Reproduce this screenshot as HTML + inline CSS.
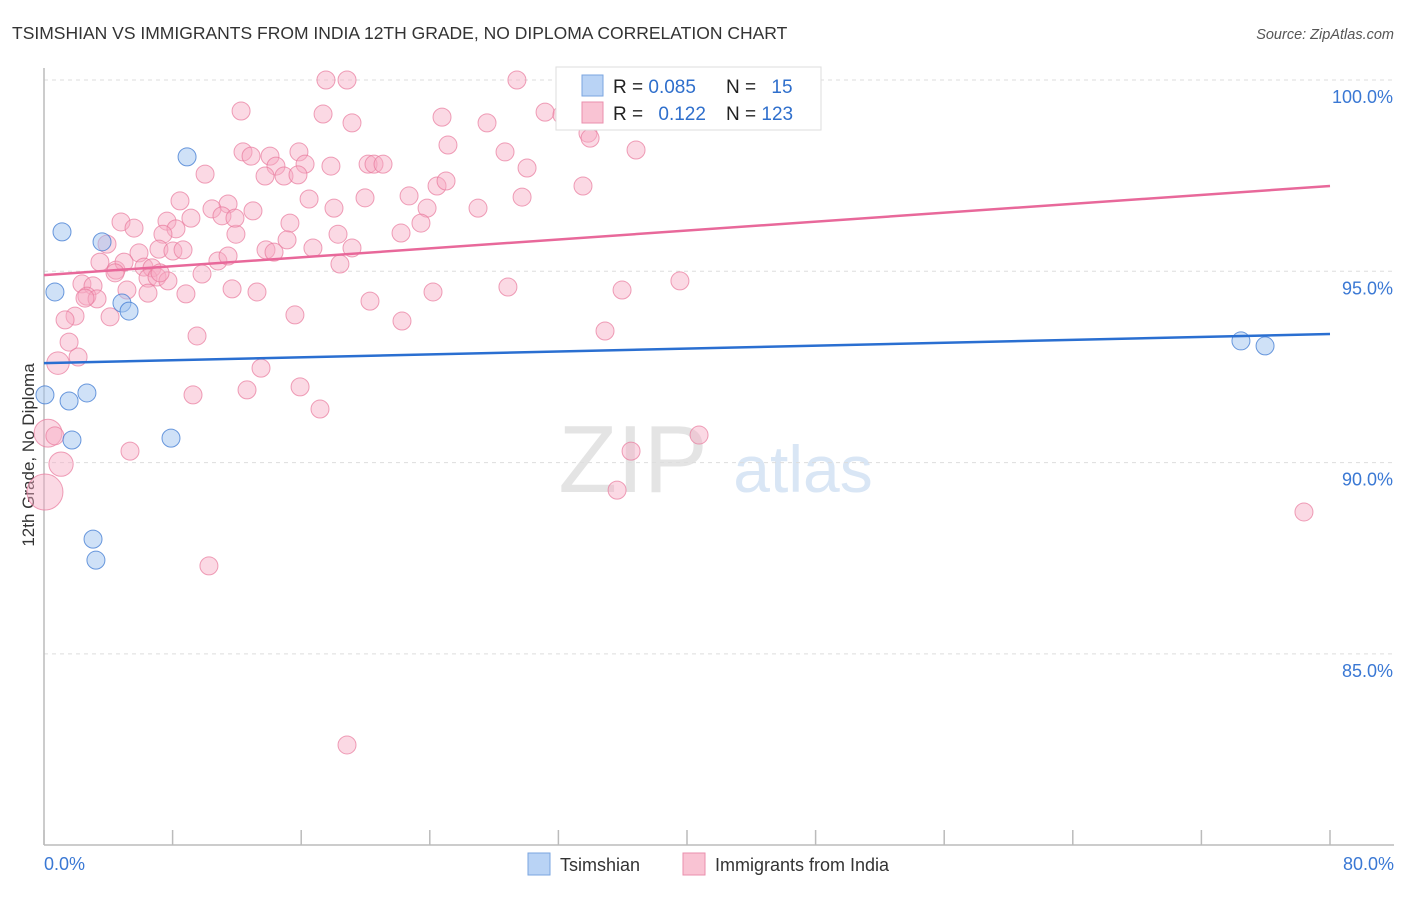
<!DOCTYPE html>
<html><head><meta charset="utf-8"><style>
body{margin:0;background:#fff;font-family:"Liberation Sans",sans-serif}
svg text{font-family:"Liberation Sans",sans-serif}
</style></head><body>
<svg width="1406" height="892" viewBox="0 0 1406 892">
<text x="12" y="39" font-size="17.5" fill="#333">TSIMSHIAN VS IMMIGRANTS FROM INDIA 12TH GRADE, NO DIPLOMA CORRELATION CHART</text>
<text x="1394" y="39" font-size="14.5" fill="#555" font-style="italic" text-anchor="end">Source: ZipAtlas.com</text>
<text transform="translate(34,455) rotate(-90)" font-size="17" fill="#333" text-anchor="middle">12th Grade, No Diploma</text>
<g>
<text x="633" y="492" font-size="96" fill="#e4e4e4" font-family="Liberation Serif,serif" text-anchor="middle">ZIP</text>
<text x="803" y="492" font-size="66" fill="#d9e6f5" text-anchor="middle">atlas</text>
</g>
<g id="grid"></g>
<line x1="44" y1="68" x2="44" y2="845" stroke="#bbb" stroke-width="1.5"/>
<line x1="44" y1="845" x2="1394" y2="845" stroke="#bbb" stroke-width="1.5"/>
<g id="xticks"></g>
<g id="pts"></g>
<g id="trends"></g>
<g>
<rect x="556" y="67" width="265" height="63" fill="#fff" stroke="#ddd"/>
<rect x="582" y="75" width="21" height="21" fill="#b9d3f5" stroke="#7aa6e0"/>
<rect x="582" y="102" width="21" height="21" fill="#f9c3d3" stroke="#ea8fac"/>
<text x="613" y="93" font-size="19" fill="#222">R = <tspan fill="#2f6fcc">0.085</tspan></text>
<text x="726" y="93" font-size="19" fill="#222">N = <tspan fill="#2f6fcc" dx="10">15</tspan></text>
<text x="613" y="120" font-size="19" fill="#222">R = <tspan fill="#2f6fcc" dx="10">0.122</tspan></text>
<text x="726" y="120" font-size="19" fill="#222">N = <tspan fill="#2f6fcc">123</tspan></text>
</g>
<g>
<rect x="528" y="853" width="22" height="22" fill="#b9d3f5" stroke="#7aa6e0"/>
<text x="560" y="871" font-size="18" fill="#333">Tsimshian</text>
<rect x="683" y="853" width="22" height="22" fill="#f9c3d3" stroke="#ea8fac"/>
<text x="715" y="871" font-size="18" fill="#333">Immigrants from India</text>
</g>
</svg>
<script>
const yTicks=[100,95,90,85];
const yTickLabels=["100.0%","95.0%","90.0%","85.0%"];
const xTickLabels=["0.0%","80.0%"];
const blueX=[0.06,1.12,0.68,1.56,1.74,2.67,3.61,4.85,5.29,7.90,8.90,3.05,3.23,74.46,75.96];
const blueY=[91.77,96.03,94.46,91.61,90.59,91.82,95.77,94.17,93.96,90.64,97.99,88.00,87.45,93.18,93.05];
const pinkX=[17.54,18.85,29.42,12.26,17.36,19.16,24.76,27.56,31.17,32.22,33.84,33.97,36.83,12.38,12.88,14.06,14.43,15.86,16.24,17.85,20.16,20.53,21.09,25.13,28.68,30.05,10.02,13.75,14.93,24.45,25.01,33.53,22.71,19.97,16.49,29.74,8.46,11.45,10.45,11.07,13.00,18.04,23.83,27.00,4.79,7.65,9.14,15.30,23.45,5.60,8.21,7.40,11.94,15.12,18.29,22.21,3.92,7.15,8.02,8.65,13.81,14.31,16.73,19.16,5.91,3.48,4.48,10.82,4.98,6.22,6.72,18.41,4.42,6.47,7.03,7.71,9.83,2.36,3.05,5.16,11.70,13.25,2.67,3.30,6.47,8.83,28.86,24.20,35.96,39.56,20.28,4.11,1.93,1.31,15.61,22.27,34.90,9.52,1.56,2.12,0.87,13.50,12.63,9.27,15.93,17.17,0.25,0.68,5.35,40.75,36.52,1.06,35.65,0.06,10.26,78.38,18.85,7.22,11.88,15.80,11.45,2.55];
const pinkY=[100,100,100,99.19,99.11,98.88,99.03,98.88,99.16,99.09,98.61,98.48,98.17,98.12,98.01,98.01,97.75,98.12,97.80,97.75,97.80,97.80,97.80,98.30,98.12,97.70,97.54,97.49,97.49,97.23,97.36,97.23,96.97,96.92,96.89,96.94,96.84,96.76,96.63,96.45,96.58,96.65,96.65,96.65,96.29,96.31,96.39,96.26,96.26,96.13,96.11,95.97,95.97,95.82,95.97,96.00,95.71,95.58,95.53,95.56,95.56,95.50,95.61,95.61,95.48,95.24,95.03,95.27,95.24,95.11,95.09,95.19,94.96,94.82,94.85,94.75,94.93,94.67,94.62,94.51,94.54,94.46,94.35,94.28,94.43,94.41,94.59,94.46,94.51,94.75,94.22,93.81,93.83,93.73,93.86,93.70,93.44,93.31,93.15,92.76,92.60,92.47,91.90,91.77,91.98,91.40,90.77,90.70,90.30,90.72,90.30,89.96,89.28,89.23,87.30,88.71,82.62,94.96,96.39,97.52,95.40,94.30];
const pinkWeight={100:1.25,106:1.55,111:1.35,113:2.0};
const blueTrend=[92.60,93.36];
const pinkTrend=[94.90,97.23];
const NS="http://www.w3.org/2000/svg";
const X=v=>44+v*16.075, Y=v=>80+(100-v)*38.26;
function mk(tag,a,parent){const e=document.createElementNS(NS,tag);for(const k in a)e.setAttribute(k,a[k]);parent.appendChild(e);return e;}
const grid=document.getElementById('grid');
yTicks.forEach((t,i)=>{
 const l=mk('line',{x1:44,x2:1394,y1:Y(t),y2:Y(t),stroke:'#ddd','stroke-dasharray':'4,4'},grid);
 
 
 const tx=mk('text',{x:1393,y:Y(t)+23,'font-size':18,fill:'#3a78d4','text-anchor':'end'},grid);
 tx.textContent=yTickLabels[i];
 
 
});
const xt=document.getElementById('xticks');
for(let i=0;i<=10;i++){
 const l=mk('line',{x1:X(i*8),x2:X(i*8),y1:830,y2:845,stroke:'#bbb','stroke-width':1.5},xt);
 
 
}
[[0,'start',44],[80,'end',1394]].forEach((d,i)=>{
 const tx=mk('text',{x:d[2],y:870,'font-size':18,fill:'#3a78d4','text-anchor':d[1]},xt);
 tx.textContent=xTickLabels[i];
 
 
});
const pts=document.getElementById('pts');
pinkX.forEach((x,i)=>{
 const c=mk('circle',{cx:X(x),cy:Y(pinkY[i]),r:9*(pinkWeight[i]||1),fill:'rgba(246,170,195,0.45)',stroke:'rgba(232,120,155,0.7)','stroke-width':1},pts);
 
 
});
blueX.forEach((x,i)=>{
 const c=mk('circle',{cx:X(x),cy:Y(blueY[i]),r:9,fill:'rgba(160,195,240,0.5)',stroke:'rgba(60,120,210,0.75)','stroke-width':1},pts);
 
 
});
const tr=document.getElementById('trends');
const bl=mk('line',{x1:X(0),x2:X(80),y1:Y(blueTrend[0]),y2:Y(blueTrend[1]),stroke:'#2a6fd1','stroke-width':2.5},tr);


const pl=mk('line',{x1:X(0),x2:X(80),y1:Y(pinkTrend[0]),y2:Y(pinkTrend[1]),stroke:'#e8689a','stroke-width':2.5},tr);


</script>
</body></html>
